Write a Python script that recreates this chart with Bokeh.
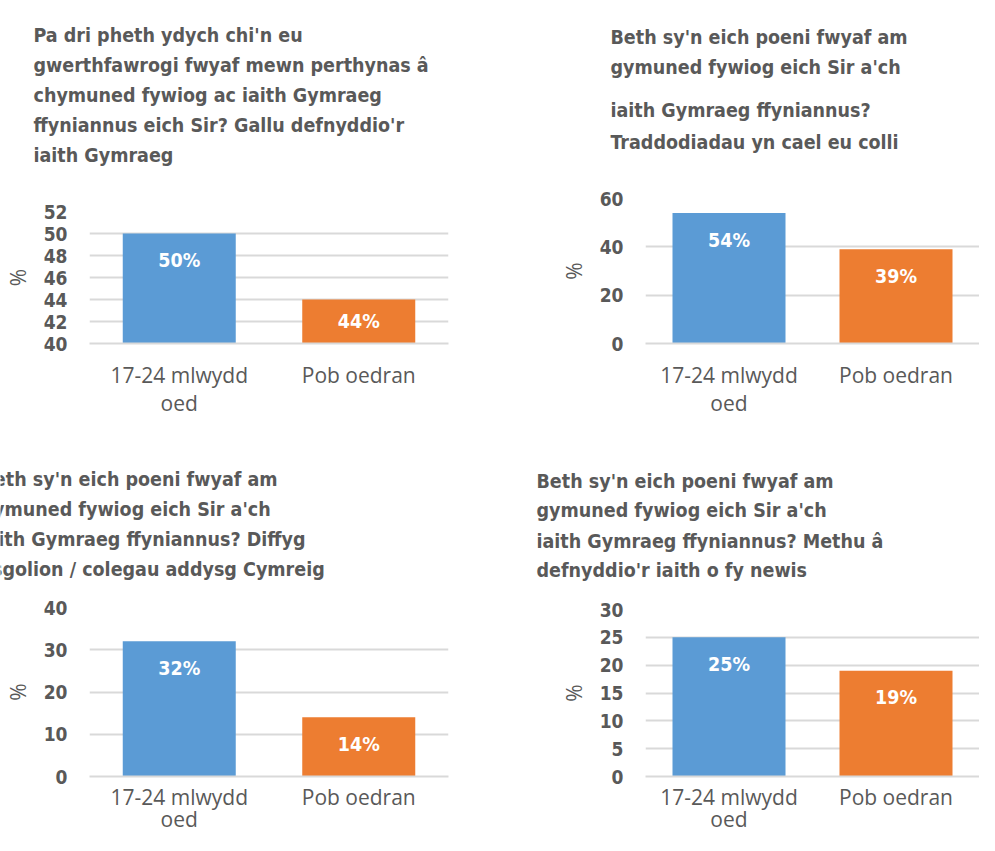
from bokeh.plotting import figure
from bokeh.models import FixedTicker, Label, ColumnDataSource, FactorRange, Range1d
from bokeh.layouts import row, column
from bokeh.embed import file_html
from bokeh.resources import INLINE
from bokeh.core.properties import value

# ---------------- data ----------------
categories = ["17-24 mlwydd\noed", "Pob oedran"]
bar_colors = ["#5B9BD5", "#ED7D31"]

values_1 = [50, 44]
values_2 = [54, 39]
values_3 = [32, 14]
values_4 = [25, 19]

ticks_1 = [40, 42, 44, 46, 48, 50, 52]
ticks_2 = [0, 20, 40, 60]
ticks_3 = [0, 10, 20, 30, 40]
ticks_4 = [0, 5, 10, 15, 20, 25, 30]

title_1 = ["Pa dri pheth ydych chi'n eu",
           "gwerthfawrogi fwyaf mewn perthynas â",
           "chymuned fywiog ac iaith Gymraeg",
           "ffyniannus eich Sir? Gallu defnyddio'r",
           "iaith Gymraeg"]
title_2 = ["Beth sy'n eich poeni fwyaf am",
           "gymuned fywiog eich Sir a'ch",
           "iaith Gymraeg ffyniannus?",
           "Traddodiadau yn cael eu colli"]
title_3 = ["Beth sy'n eich poeni fwyaf am",
           "gymuned fywiog eich Sir a'ch",
           "iaith Gymraeg ffyniannus? Diffyg",
           "ysgolion / colegau addysg Cymreig"]
title_4 = ["Beth sy'n eich poeni fwyaf am",
           "gymuned fywiog eich Sir a'ch",
           "iaith Gymraeg ffyniannus? Methu â",
           "defnyddio'r iaith o fy newis"]

y_label = "%"

# ---------------- styling ----------------
COND = "DejaVu Sans Condensed"
REG = "Open Sans"
GRAY = "#595959"
GRID = "#D9D9D9"


def title_block(lines, W, H, x, baselines):
    """A figure holding only the multi-line title (pixel data coordinates)."""
    t = figure(width=W, height=H, x_range=Range1d(0, W), y_range=Range1d(0, H),
               x_axis_type=None, y_axis_type=None, output_backend="svg",
               toolbar_location=None, min_border=0)
    t.outline_line_color = None
    t.background_fill_color = "white"
    t.border_fill_color = "white"
    for line, yb in zip(lines, baselines):
        t.add_layout(Label(x=x, y=H - yb, text=line, text_font=COND,
                           text_font_style="bold", text_font_size="19.5px",
                           text_color=GRAY, text_baseline="alphabetic",
                           text_align="left"))
    return t


def chart(vals, ticks, W, H, left, right, top, bottom, cat_standoff, cat_lh):
    lo, hi = ticks[0], ticks[-1]
    p = figure(x_range=FactorRange(*categories), y_range=Range1d(lo, hi),
               width=W, height=H, output_backend="svg", toolbar_location=None,
               min_border_left=left, min_border_right=right,
               min_border_top=top, min_border_bottom=bottom)
    p.outline_line_color = None
    p.background_fill_color = "white"
    p.border_fill_color = "white"

    frame_w = W - left - right
    frame_h = H - top - bottom
    cat_px = frame_w / len(categories)

    offs = []
    for v in vals:
        bar_px = (v - lo) / (hi - lo) * frame_h
        offs.append(min(27.0, bar_px / 2.0))
    src = ColumnDataSource(dict(cat=categories, val=vals, color=bar_colors,
                                lab=[f"{v}%" for v in vals], off=offs))
    p.vbar(x="cat", top="val", bottom=lo, width=113.0 / cat_px, color="color",
           line_color=None, source=src)
    p.text(x="cat", y="val", text="lab", y_offset="off", source=src,
           text_align="center", text_baseline="middle", text_color="white",
           text_font=value(COND), text_font_style="bold", text_font_size="19.5px")

    p.xgrid.grid_line_color = None
    p.ygrid.grid_line_color = GRID
    p.ygrid.grid_line_width = 2

    ya = p.yaxis[0]
    ya.ticker = FixedTicker(ticks=ticks)
    ya.axis_line_color = None
    ya.major_tick_line_color = None
    ya.minor_tick_line_color = None
    ya.major_tick_out = 0
    ya.major_tick_in = 0
    ya.major_label_standoff = 22
    ya.major_label_text_font = COND
    ya.major_label_text_font_style = "bold"
    ya.major_label_text_font_size = "19px"
    ya.major_label_text_color = GRAY
    ya.axis_label = y_label
    ya.axis_label_standoff = 9
    ya.axis_label_text_font = REG
    ya.axis_label_text_font_style = "normal"
    ya.axis_label_text_font_size = "21px"
    ya.axis_label_text_color = GRAY

    xa = p.xaxis[0]
    xa.axis_line_color = GRID
    xa.axis_line_width = 2
    xa.major_tick_line_color = None
    xa.minor_tick_line_color = None
    xa.major_tick_out = 0
    xa.major_tick_in = 0
    xa.major_label_standoff = cat_standoff
    xa.major_label_text_font = REG
    xa.major_label_text_font_size = "21px"
    xa.major_label_text_color = GRAY
    xa.major_label_text_line_height = cat_lh
    return p


# Layout: left column 500 px, right column 479 px.
# Top row: title block 0..172, chart 172..425.  Bottom row: title 425..590, chart 590..835.
t1 = title_block(title_1, 500, 172, 33, [35, 64.5, 94.5, 125, 155])
t2 = title_block(title_2, 479, 172, 110, [37, 67, 110, 142])
t3 = title_block(title_3, 500, 165, -20, [54, 84, 114, 144])
t4 = title_block(title_4, 479, 165, 36, [56, 85, 116, 145])

c1 = chart(values_1, ticks_1, 500, 253, 89, 52, 39, 82, 17, 1.0)
c2 = chart(values_2, ticks_2, 479, 253, 145, 0, 26, 82, 17, 1.0)
c3 = chart(values_3, ticks_3, 500, 245, 89, 52, 17, 59, 6, 0.8)
c4 = chart(values_4, ticks_4, 479, 245, 145, 0, 19, 59, 6, 0.8)

# each block wrapped separately so that Bokeh does not align the frames
layout = column(row(column(row(t1), row(c1)), column(row(t2), row(c2))),
                row(column(row(t3), row(c3)), column(row(t4), row(c4))))

open("out.html", "w").write(file_html(layout, INLINE))
